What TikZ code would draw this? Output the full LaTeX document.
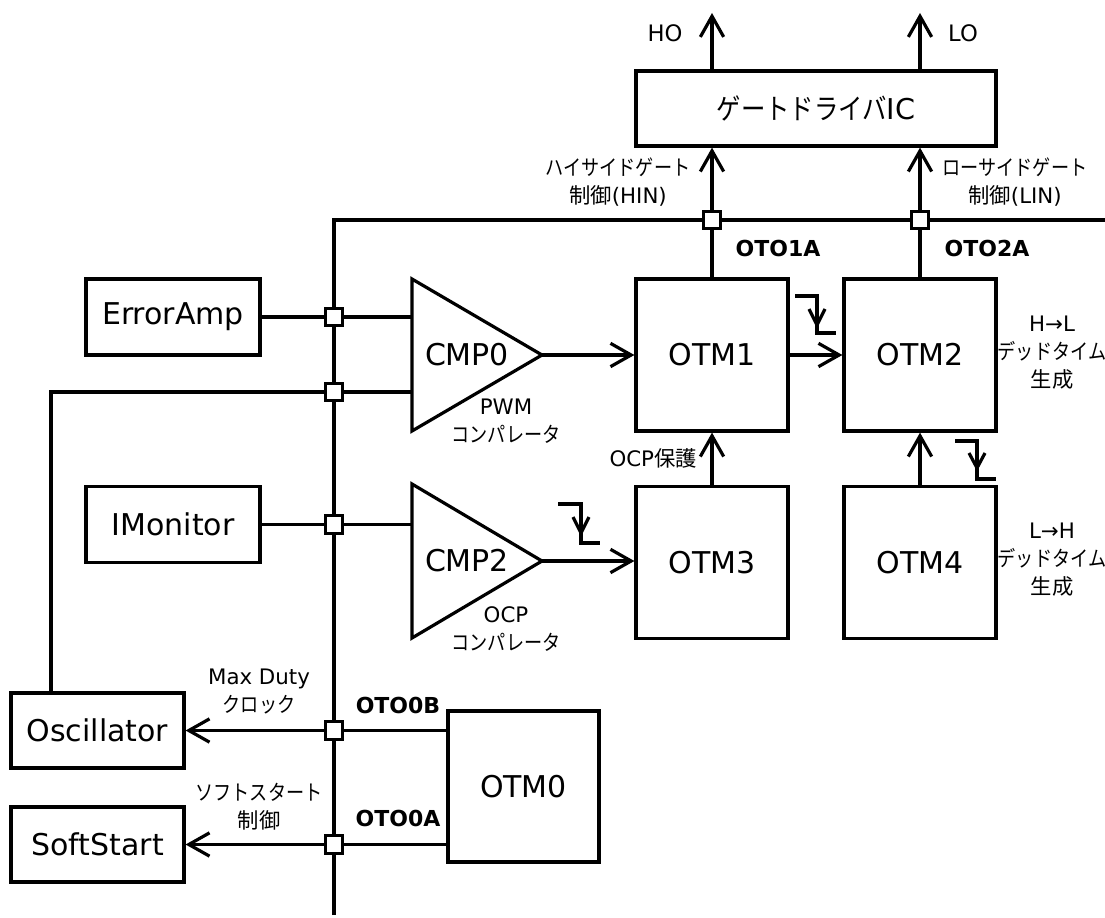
\documentclass[tikz,border=0pt]{standalone}
\usepackage{fontspec}
\setmainfont{DejaVu Sans}
\newfontfamily\jpk[FakeStretch=0.85]{Noto Sans CJK JP}
\newfontfamily\jpn{Noto Sans CJK JP}
\usetikzlibrary{arrows.meta}
\newcommand\fbig{\fontsize{22.5pt}{27pt}\selectfont}
\newcommand\fsm{\fontsize{16pt}{21pt}\selectfont}
\newcommand\fgd{\fontsize{21.5pt}{25pt}\selectfont}
\begin{document}
\begin{tikzpicture}[x=0.75pt,y=-0.75pt,
  ln/.style={line width=2.4pt},
  arr/.style={ln,-{Straight Barb[length=15.5pt,width=17.5pt]}},
  blk/.style={draw,ln,inner sep=0pt,font=\fbig},
  junc/.style={draw,fill=white,line width=2.25pt,minimum size=13pt,inner sep=0pt},
  lbl/.style={font=\fsm,align=center,inner sep=0pt},
  oto/.style={font=\fontsize{16.5pt}{20pt}\selectfont\bfseries,inner sep=0pt},
  fe/.style={line width=2.4pt},
]
\useasboundingbox (0,0) rectangle (1105,917);

% blocks
\node[blk,minimum width=270pt,minimum height=56.25pt,font=\fgd] (gd) at (816,108.5) {{\jpk ゲートドライバ}IC};
\node[blk,minimum width=114pt,minimum height=114pt] (otm1) at (712,355) {OTM1};
\node[blk,minimum width=114pt,minimum height=114pt] (otm2) at (920,355) {OTM2};
\node[blk,minimum width=114pt,minimum height=114pt] (otm3) at (712,562.5) {OTM3};
\node[blk,minimum width=114pt,minimum height=114pt] (otm4) at (920,562.5) {OTM4};
\node[blk,minimum width=113.25pt,minimum height=113.25pt] (otm0) at (523.5,786.5) {OTM0};
\node[blk,minimum width=130.5pt,minimum height=57pt] (ea) at (173,317) {ErrorAmp};
\node[blk,minimum width=130.5pt,minimum height=57pt] (im) at (173,524.5) {IMonitor};
\node[blk,minimum width=129.75pt,minimum height=56.25pt] (osc) at (97.5,730.5) {Oscillator};
\node[blk,minimum width=129.75pt,minimum height=56.25pt] (ss) at (97.5,844.5) {SoftStart};

% comparators
\draw[ln] (412,279) -- (542,355) -- (412,431) -- cycle;
\node[font=\fbig,inner sep=0pt] (cmp0) at (467,355) {CMP0};
\coordinate (c0out) at (542,355);
\coordinate (c0a) at (412,317);
\coordinate (c0b) at (412,392);
\draw[ln] (412,484) -- (542,561) -- (412,638) -- cycle;
\node[font=\fbig,inner sep=0pt] (cmp2) at (467,561) {CMP2};
\coordinate (c2out) at (542,561);
\coordinate (c2a) at (412,524.5);

% bus
\coordinate (busB) at (334,915);
\coordinate (busT) at (334,220);
\coordinate (busR) at (1105,220);
\draw[ln] (busB) -- (busT) -- (busR);

\coordinate (jea) at (334,317);
\coordinate (josc) at (334,392);
\coordinate (jim) at (334,524.5);
\coordinate (jb) at (334,730.5);
\coordinate (ja) at (334,844.5);
\coordinate (jh) at (712,220);
\coordinate (jl) at (920,220);
\coordinate (fbk) at (51,392);
\coordinate (ho) at (712,13);
\coordinate (lo) at (920,13);

% connectors
\draw[ln] (ea.east) -- (c0a);
\draw[ln] (osc.north -| fbk) -- (fbk) -- (c0b);
\draw[ln] (im.east) -- (c2a);
\draw[arr] (c0out) -- (otm1.west);
\draw[arr] (c2out) -- (otm3.west |- c2out);
\draw[arr] (otm1.east) -- (otm2.west);
\draw[arr] (otm3.north) -- (otm1.south);
\draw[arr] (otm4.north) -- (otm2.south);
\draw[ln] (otm1.north) -- (jh);
\draw[arr] (jh) -- (gd.south -| jh);
\draw[ln] (otm2.north) -- (jl);
\draw[arr] (jl) -- (gd.south -| jl);
\draw[arr] (gd.north -| ho) -- (ho);
\draw[arr] (gd.north -| lo) -- (lo);
\draw[arr] (otm0.west |- osc.east) -- (osc.east);
\draw[arr] (otm0.west |- ss.east) -- (ss.east);

% junctions
\foreach \j in {jea,josc,jim,jb,ja,jh,jl} \node[junc] (sq-\j) at (\j) {};

% labels
\node[lbl,font=\fontsize{17pt}{20pt}\selectfont] (hol) at (665,33) {HO};
\node[lbl,font=\fontsize{17pt}{20pt}\selectfont] (lol) at (963,33) {LO};
\node[lbl] (hin) at (618,182) {{\jpk ハイサイドゲート}\\{\jpn 制御}(HIN)};
\node[lbl] (lin) at (1015,182) {{\jpk ローサイドゲート}\\{\jpn 制御}(LIN)};
\node[oto] (o1a) at (778,248) {OTO1A};
\node[oto] (o2a) at (987,248) {OTO2A};
\node[oto] (o0b) at (398,705) {OTO0B};
\node[oto] (o0a) at (398,818) {OTO0A};
\node[lbl] (pwm) at (506,421) {PWM\\{\jpk コンパレータ}};
\node[lbl] (ocpc) at (506,629) {OCP\\{\jpk コンパレータ}};
\node[lbl,anchor=east] (ocpp) at (697,458) {OCP{\jpn 保護}};
\node[lbl] (hl) at (1052,353) {H→L\\{\jpk デッドタイム}\\{\jpn 生成}};
\node[lbl] (lh) at (1052,560) {L→H\\{\jpk デッドタイム}\\{\jpn 生成}};
\node[lbl] (md) at (259,692) {Max Duty\\{\jpk クロック}};
\node[lbl] (sst) at (259,807) {{\jpk ソフトスタート}\\{\jpn 制御}};

% falling-edge symbols
\draw[fe] (795,296) -- (817,296) -- (817,333) -- (836,333);
\draw[fe] (809,309) -- (817,325) -- (825,309);
\draw[fe] (955,441) -- (977,441) -- (977,479) -- (996,479);
\draw[fe] (969,453) -- (977,468) -- (985,453);
\draw[fe] (558,504) -- (581,504) -- (581,543) -- (600,543);
\draw[fe] (573,517) -- (581,533) -- (589,517);
\end{tikzpicture}
\end{document}
